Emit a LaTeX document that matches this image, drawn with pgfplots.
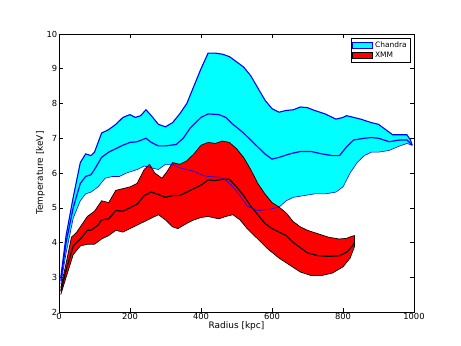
\documentclass[border=0pt]{standalone}
\usepackage{fontspec}
\setmainfont{DejaVu Sans}
\usepackage{pgfplots}
\usepackage{pgfplotstable}
\pgfplotsset{compat=1.18}
\usepgfplotslibrary{fillbetween}
\definecolor{mcyan}{rgb}{0,1,1}
\definecolor{mred}{rgb}{1,0,0}
\definecolor{mblue}{rgb}{0,0,1}

% Chandra band
\pgfplotstableread{
r T
5 3.0
20 4.2
40 5.3
60 6.3
75 6.55
90 6.5
100 6.6
120 7.15
140 7.25
160 7.4
180 7.6
200 7.68
215 7.6
230 7.65
245 7.82
260 7.65
280 7.4
300 7.33
320 7.45
340 7.7
360 8.0
380 8.5
400 9.0
420 9.45
440 9.45
460 9.42
480 9.35
500 9.2
520 9.05
540 8.8
560 8.45
580 8.1
600 7.85
620 7.75
640 7.8
660 7.82
680 7.9
700 7.88
720 7.8
750 7.7
780 7.55
800 7.6
810 7.65
830 7.6
850 7.55
880 7.45
900 7.4
920 7.25
940 7.1
960 7.1
980 7.1
990 6.95
995 6.8
}\chup
\pgfplotstableread{
r T
5 2.9
20 4.0
40 5.0
60 5.7
75 5.9
90 5.95
100 6.1
120 6.45
140 6.6
160 6.7
180 6.8
200 6.88
220 6.9
245 7.0
260 6.88
280 6.78
300 6.78
330 6.82
350 7.0
370 7.3
400 7.6
420 7.7
450 7.68
470 7.6
490 7.4
520 7.15
550 6.85
580 6.55
600 6.4
620 6.45
650 6.55
680 6.62
710 6.62
740 6.55
770 6.5
790 6.5
810 6.75
830 6.95
860 7.0
880 7.02
900 7.0
930 6.9
960 6.95
980 6.95
995 6.8
}\chmid
\pgfplotstableread{
r T
5 2.8
20 3.7
40 4.7
60 5.2
75 5.4
90 5.45
110 5.6
130 5.85
150 5.9
170 5.9
190 6.0
220 6.1
240 6.2
260 6.15
280 6.1
300 6.25
320 6.25
340 6.15
360 6.1
380 6.05
400 5.95
420 5.9
450 5.88
470 5.8
490 5.6
510 5.35
530 5.05
560 4.92
590 4.95
620 5.02
640 5.2
660 5.3
690 5.35
720 5.4
750 5.4
780 5.45
800 5.6
820 6.0
840 6.3
860 6.5
880 6.6
900 6.6
930 6.65
960 6.78
980 6.85
995 6.8
}\chlo

% XMM band
\pgfplotstableread{
r T
5 2.7
20 3.4
35 4.15
50 4.3
70 4.6
80 4.75
100 4.9
120 5.2
140 5.15
160 5.5
180 5.55
200 5.6
220 5.7
240 6.1
255 6.25
270 6.0
290 5.85
305 6.05
320 6.3
340 6.25
360 6.35
380 6.55
400 6.8
420 6.88
440 6.85
460 6.92
480 6.88
500 6.7
520 6.45
540 6.1
560 5.7
580 5.4
600 5.15
620 5.02
640 4.85
660 4.6
680 4.45
700 4.35
730 4.25
760 4.15
790 4.1
810 4.12
825 4.18
833 4.2
}\xup
\pgfplotstableread{
r T
5 2.6
20 3.2
40 3.9
60 4.1
80 4.35
90 4.35
110 4.5
120 4.65
140 4.68
160 4.92
180 4.9
200 5.0
220 5.1
240 5.35
260 5.45
280 5.38
300 5.3
320 5.35
340 5.35
360 5.45
380 5.55
400 5.65
420 5.8
440 5.78
460 5.82
480 5.82
500 5.6
520 5.35
540 5.05
560 4.8
580 4.55
600 4.4
620 4.3
640 4.2
660 4.0
680 3.85
700 3.7
730 3.62
760 3.6
790 3.62
810 3.72
825 3.88
833 4.0
}\xmid
\pgfplotstableread{
r T
5 2.5
20 3.0
40 3.65
60 3.9
80 3.95
100 3.95
120 4.1
140 4.2
160 4.35
180 4.3
200 4.4
220 4.5
240 4.6
260 4.7
280 4.8
300 4.65
320 4.45
335 4.4
360 4.55
380 4.65
400 4.72
420 4.75
450 4.68
470 4.75
490 4.8
510 4.65
530 4.4
560 4.1
590 3.8
620 3.55
650 3.35
680 3.15
710 3.05
740 3.05
770 3.12
800 3.3
820 3.55
833 3.9
}\xlo

\begin{document}
\begin{tikzpicture}
\begin{axis}[scale only axis, width=355bp, height=278bp,
  xmin=0, xmax=1000, ymin=2, ymax=10,
  xtick={0,200,...,1000}, ytick={2,...,10},
  /pgf/number format/assume math mode=true,
  /pgf/number format/1000 sep={},
  tick align=inside, major tick length=4bp,
  tick style={black, line width=0.5pt},
  axis line style={line width=0.6pt},
  ticklabel style={font=\fontsize{8.4}{10}\selectfont},
  xticklabel style={inner sep=1.5pt},
  yticklabel style={inner sep=1.5pt},
  label style={font=\fontsize{9}{11}\selectfont},
  xlabel={Radius [kpc]}, ylabel={Temperature [keV]},
  xlabel style={yshift=3bp}, ylabel style={yshift=-3bp},
  legend style={at={(0.99,0.985)}, anchor=north east, font=\fontsize{7.5}{9}\selectfont,
    draw=black, line width=0.5pt, inner sep=1.5pt, row sep=-1pt},
  legend cell align=left,
  legend image code/.code={\draw[#1, line width=0.7pt] (0bp,-3bp) rectangle (20bp,3bp);},
]
\addplot[draw=none, name path=cu, forget plot] table {\chup};
\addplot[draw=none, name path=cl, forget plot] table {\chlo};
\addplot[draw=none, name path=xu, forget plot] table {\xup};
\addplot[draw=none, name path=xl, forget plot] table {\xlo};
\addplot[fill=mcyan, draw=none, forget plot] fill between[of=cu and cl];
\addplot[fill=mred, draw=none, forget plot] fill between[of=xu and xl];
\addplot[black, line width=0.7pt, forget plot] table {\xup};
\addplot[black, line width=0.7pt, forget plot] table {\xlo};
\addplot[black, line width=1.2pt, forget plot] table {\xmid};
\addplot[black, line width=0.7pt, forget plot] coordinates {(833,4.2) (833,3.9)};
\addplot[mblue, line width=1.1pt, forget plot] table {\chup};
\addplot[mblue, line width=0.6pt, forget plot] table {\chlo};
\addplot[mblue, line width=1.2pt, forget plot] table {\chmid};
\addlegendimage{fill=mcyan, draw=mblue}
\addlegendentry{Chandra}
\addlegendimage{fill=mred, draw=black}
\addlegendentry{XMM}
\end{axis}
\path (-59bp,-34bp) rectangle (402bp,312bp);
\end{tikzpicture}
\end{document}
